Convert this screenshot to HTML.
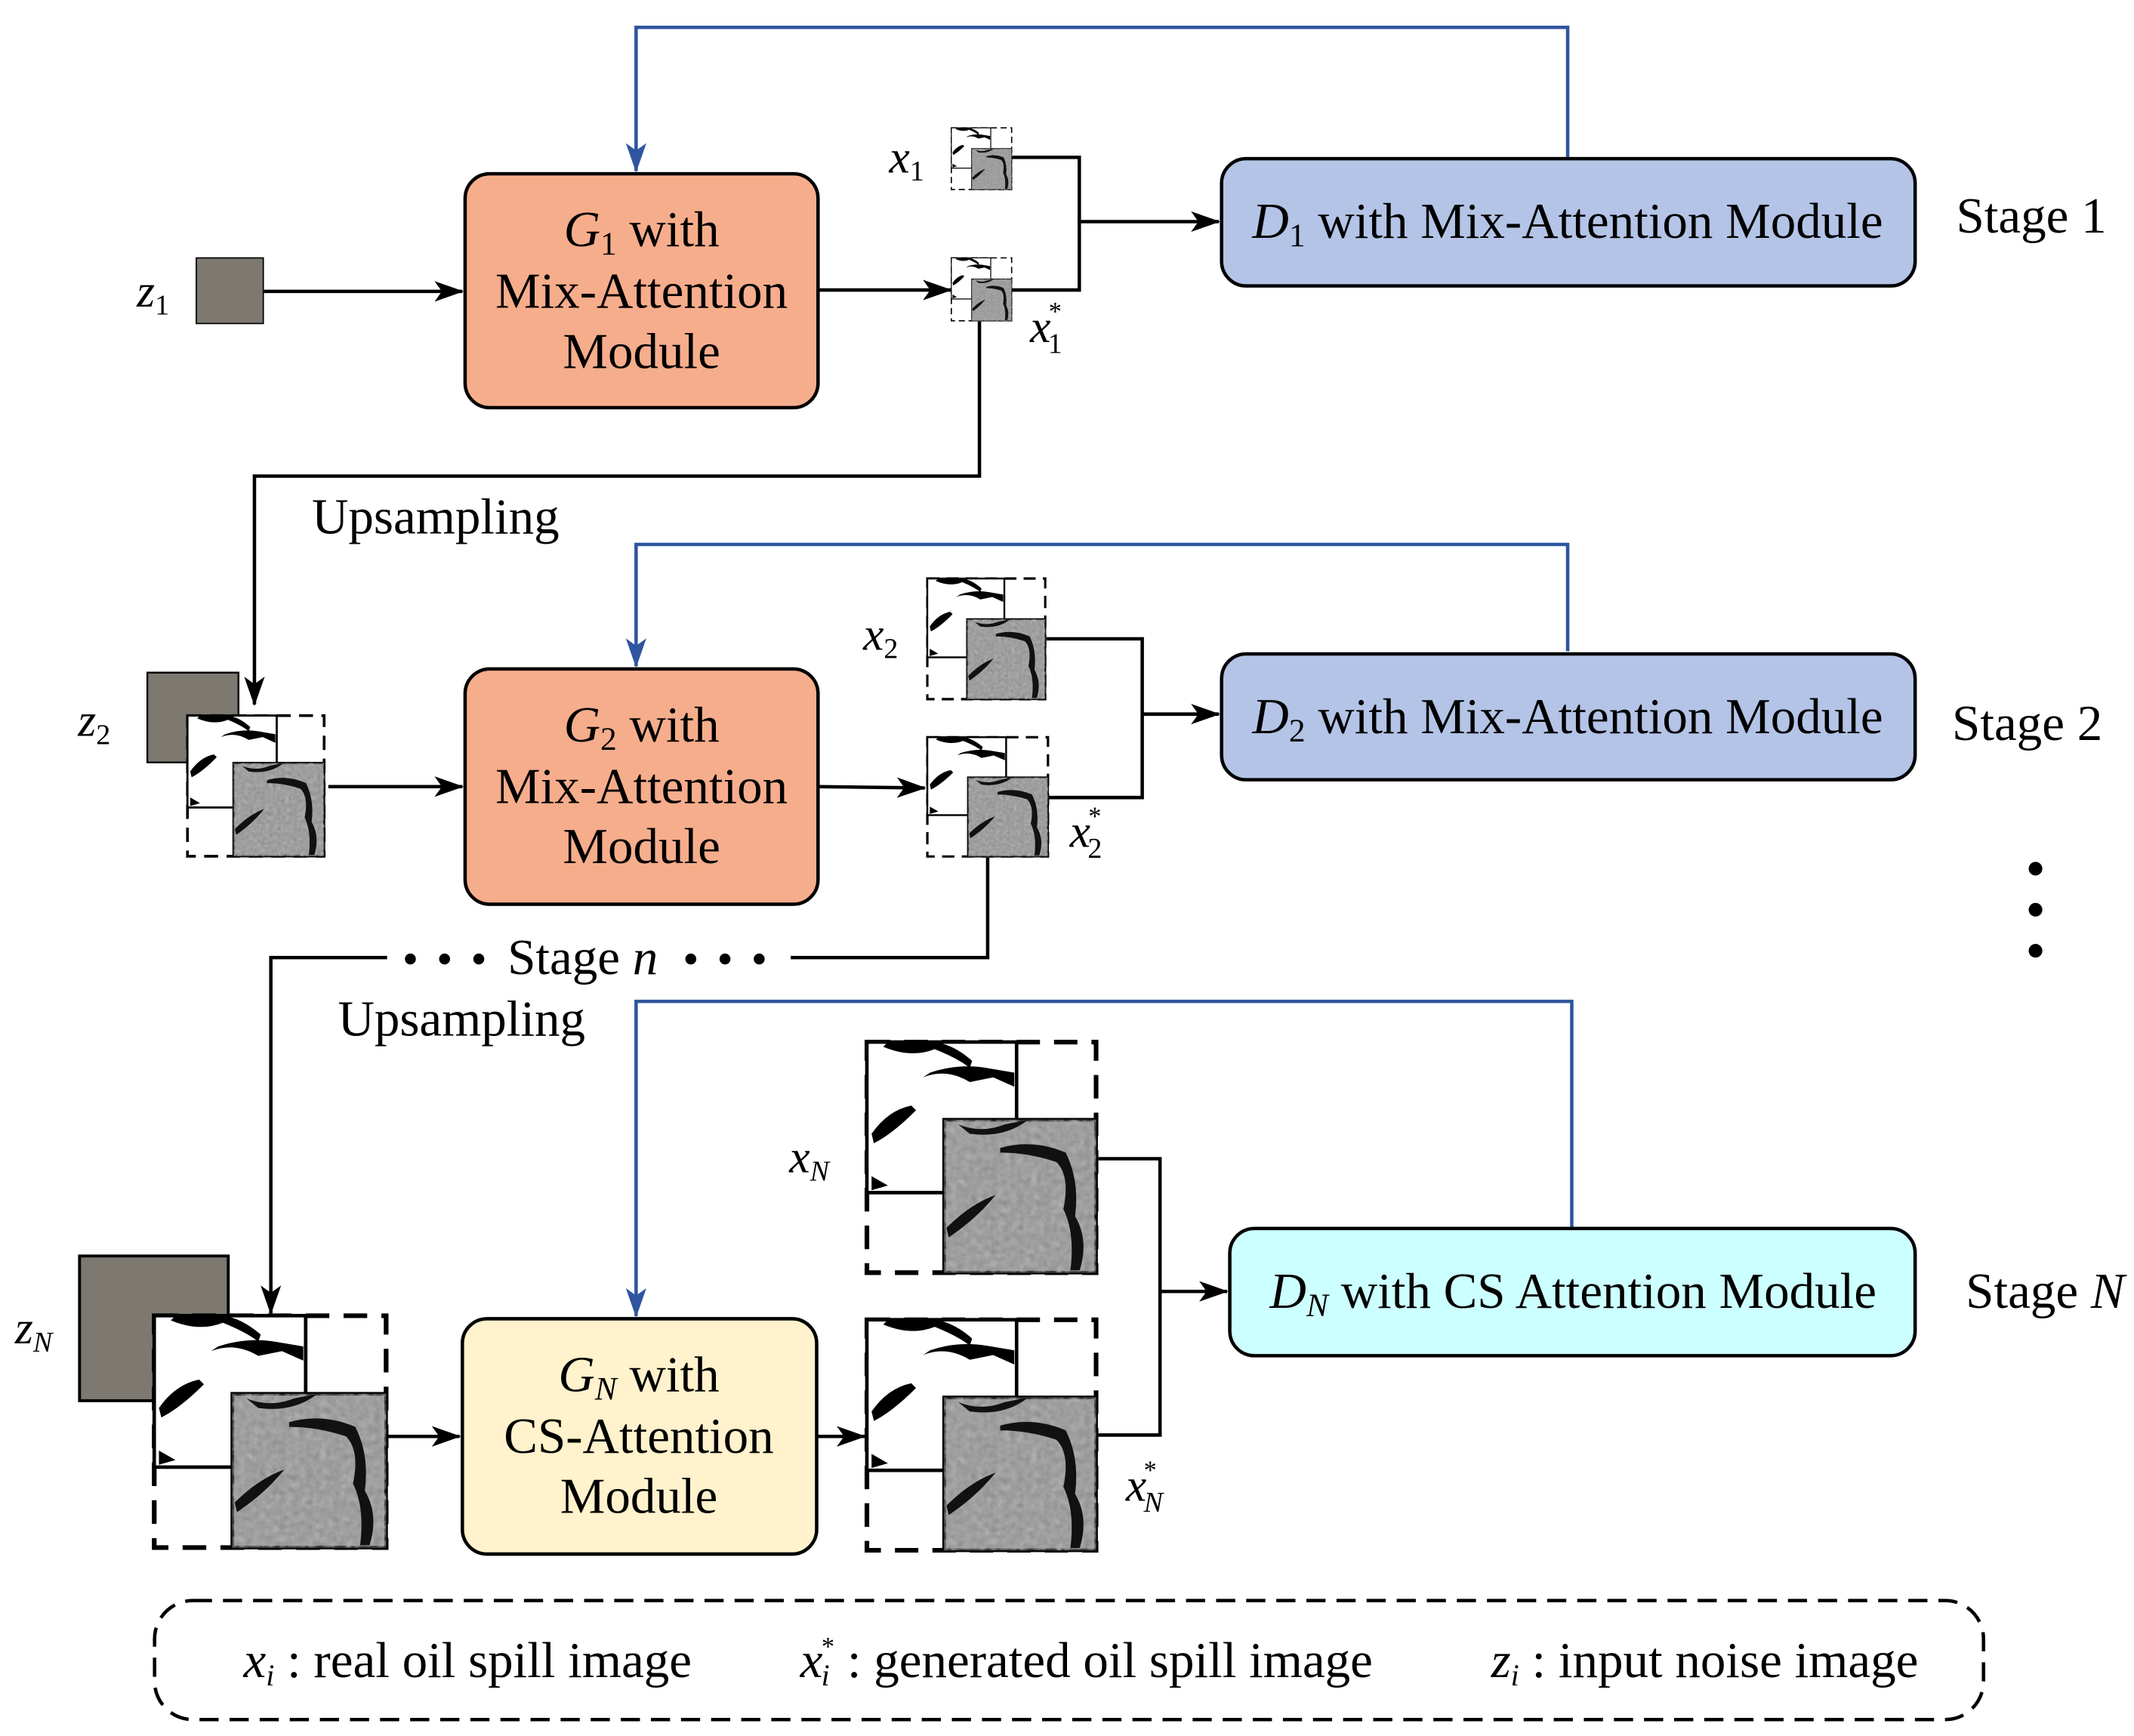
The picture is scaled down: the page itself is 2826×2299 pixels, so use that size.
<!DOCTYPE html>
<html><head><meta charset="utf-8"><style>
html,body{margin:0;padding:0;background:#fff;}
svg{display:block;}
text{font-family:"Liberation Serif",serif;fill:#000;}
</style></head><body>
<svg width="2826" height="2299" viewBox="0 0 1560 1269" preserveAspectRatio="none" xmlns="http://www.w3.org/2000/svg">
<defs>
<marker id="ak" viewBox="0 0 20 14" markerWidth="22" markerHeight="15" refX="19" refY="7" orient="auto" markerUnits="userSpaceOnUse"><path d="M0,0 L20,7 L0,14 L5,7 z" fill="#000"/></marker>
<marker id="au" viewBox="0 0 20 14" markerWidth="22" markerHeight="15" refX="19" refY="7" orient="auto" markerUnits="userSpaceOnUse"><path d="M0,0 L20,7 L0,14 L5,7 z" fill="#2F55A0"/></marker>
<filter id="nz" x="0" y="0" width="1" height="1"><feTurbulence type="fractalNoise" baseFrequency="0.35" numOctaves="2" seed="3"/><feColorMatrix type="matrix" values="0 0 0 0 0.45  0 0 0 0 0.45  0 0 0 0 0.45  0.6 0.6 0.6 0 -0.4"/><feComposite in2="SourceGraphic" operator="in"/></filter>
<symbol id="stack" viewBox="0 0 100 100" preserveAspectRatio="none">
<rect x="1" y="1" width="98" height="98" fill="none" stroke="#000" stroke-width="2" stroke-dasharray="10,6"/>
<rect x="1" y="1" width="64" height="64" fill="#fff" stroke="#000" stroke-width="1.5"/>
<path d="M8,3 Q20,8 30,4 Q40,8 45,12 L46,9 Q38,2 30,1 L10,1 z" fill="#000"/>
<path d="M25,16 Q35,12 45,18 L55,16 L64,20 L64,14 L52,12 Q40,10 28,14 z" fill="#000"/>
<path d="M3,40 Q10,30 20,28 L22,30 Q12,40 4,44 z" fill="#000"/>
<path d="M3,58 L10,62 L3,64 z" fill="#000"/>
<rect x="34" y="34" width="65" height="65" fill="#8a8a8a" stroke="#000" stroke-width="1.5"/>
<rect x="34" y="34" width="65" height="65" fill="#666" filter="url(#nz)"/>
<path d="M40,36 Q50,40 60,36 L70,34 Q60,42 45,40 z" fill="#111"/>
<path d="M58,46 Q72,42 86,48 Q92,60 90,75 Q96,85 92,98 L88,98 Q90,82 85,72 Q88,58 82,52 Q70,48 58,48 z" fill="#111"/>
<path d="M35,80 Q45,70 56,66 Q48,76 36,84 z" fill="#111"/>
</symbol>
<symbol id="noise" viewBox="0 0 100 100" preserveAspectRatio="none">
<rect x="1" y="1" width="98" height="98" fill="#7d7870" stroke="#000" stroke-width="2"/>
</symbol>
</defs>

<g stroke="#000" stroke-width="2.5" fill="none">
<line x1="193" y1="213" x2="338" y2="213" marker-end="url(#ak)"/>
<line x1="598" y1="212" x2="695" y2="212" marker-end="url(#ak)"/>
<polyline points="740,115 789,115 789,212 740,212"/>
<line x1="789" y1="162" x2="891" y2="162" marker-end="url(#ak)"/>
<polyline points="716,235 716,348 186,348 186,515" marker-end="url(#ak)"/>
<line x1="240" y1="575" x2="338" y2="575" marker-end="url(#ak)"/>
<line x1="598" y1="575" x2="676" y2="576" marker-end="url(#ak)"/>
<polyline points="765,467 835,467 835,583 767,583"/>
<line x1="835" y1="522" x2="891" y2="522" marker-end="url(#ak)"/>
<polyline points="722,627 722,700 578,700"/>
<polyline points="283,700 198,700 198,960" marker-end="url(#ak)"/>
<line x1="284" y1="1050" x2="336" y2="1050" marker-end="url(#ak)"/>
<line x1="597" y1="1050" x2="632" y2="1050" marker-end="url(#ak)"/>
<polyline points="803,847 848,847 848,1049 803,1049"/>
<line x1="848" y1="944" x2="897" y2="944" marker-end="url(#ak)"/>
</g>
<g stroke="#2F55A0" stroke-width="2.5" fill="none">
<polyline points="1146,115 1146,20 465,20 465,125" marker-end="url(#au)"/>
<polyline points="1146,476 1146,398 465,398 465,487" marker-end="url(#au)"/>
<polyline points="1149,898 1149,732 465,732 465,962" marker-end="url(#au)"/>
</g>

<rect x="340" y="127" width="258" height="171" rx="18" fill="#F6AD8C" stroke="#000" stroke-width="2.5"/>
<rect x="340" y="489" width="258" height="172" rx="18" fill="#F6AD8C" stroke="#000" stroke-width="2.5"/>
<rect x="338" y="964" width="259" height="172" rx="18" fill="#FFF2CC" stroke="#000" stroke-width="2.5"/>
<rect x="893" y="116" width="507" height="93" rx="18" fill="#B4C4E7" stroke="#000" stroke-width="2.5"/>
<rect x="893" y="478" width="507" height="92" rx="18" fill="#B4C4E7" stroke="#000" stroke-width="2.5"/>
<rect x="899" y="898" width="501" height="93" rx="18" fill="#CCFFFF" stroke="#000" stroke-width="2.5"/>
<rect x="113" y="1170" width="1337" height="87" rx="28" fill="none" stroke="#000" stroke-width="2.5" stroke-dasharray="14,8"/>

<use href="#noise" x="143" y="188" width="50" height="49"/>
<use href="#stack" x="695" y="93" width="45" height="46"/>
<use href="#stack" x="695" y="188" width="45" height="47"/>
<use href="#noise" x="107" y="491" width="68" height="67"/>
<use href="#stack" x="136" y="522" width="102" height="105"/>
<use href="#stack" x="677" y="422" width="88" height="90"/>
<use href="#stack" x="677" y="538" width="90" height="89"/>
<use href="#noise" x="57" y="917" width="111" height="108"/>
<use href="#stack" x="111" y="960" width="173" height="173"/>
<use href="#stack" x="632" y="760" width="171" height="172"/>
<use href="#stack" x="632" y="963" width="171" height="172"/>

<g font-size="37" text-anchor="middle">
<text x="469" y="180"><tspan font-style="italic">G</tspan><tspan font-size="24" dy="6">1</tspan><tspan dy="-6"> with</tspan></text>
<text x="469" y="225">Mix-Attention</text>
<text x="469" y="269">Module</text>
<text x="469" y="542"><tspan font-style="italic">G</tspan><tspan font-size="24" dy="6">2</tspan><tspan dy="-6"> with</tspan></text>
<text x="469" y="587">Mix-Attention</text>
<text x="469" y="631">Module</text>
<text x="467" y="1017"><tspan font-style="italic">G</tspan><tspan font-size="24" font-style="italic" dy="6">N</tspan><tspan dy="-6"> with</tspan></text>
<text x="467" y="1062">CS-Attention</text>
<text x="467" y="1106">Module</text>
<text x="1146" y="174"><tspan font-style="italic">D</tspan><tspan font-size="24" dy="6">1</tspan><tspan dy="-6"> with Mix-Attention Module</tspan></text>
<text x="1146" y="536"><tspan font-style="italic">D</tspan><tspan font-size="24" dy="6">2</tspan><tspan dy="-6"> with Mix-Attention Module</tspan></text>
<text x="1150" y="956"><tspan font-style="italic">D</tspan><tspan font-size="24" font-style="italic" dy="6">N</tspan><tspan dy="-6"> with CS Attention Module</tspan></text>
</g>
<g font-size="37">
<text x="1430" y="170">Stage 1</text>
<text x="1427" y="541">Stage 2</text>
<text x="1437" y="956">Stage <tspan font-style="italic">N</tspan></text>
<text x="228" y="390">Upsampling</text>
<text x="247" y="757">Upsampling</text>
<text x="371" y="712">Stage <tspan font-style="italic">n</tspan></text>
</g>
<g fill="#000">
<circle cx="300" cy="701" r="4"/><circle cx="325" cy="701" r="4"/><circle cx="350" cy="701" r="4"/>
<circle cx="505" cy="701" r="4"/><circle cx="530" cy="701" r="4"/><circle cx="555" cy="701" r="4"/>
<circle cx="1488" cy="635" r="5"/><circle cx="1488" cy="665" r="5"/><circle cx="1488" cy="695" r="5"/></g>
<g font-size="34" font-style="italic">
<text x="100" y="224">z<tspan font-size="21" font-style="normal" dy="6">1</tspan></text>
<text x="57" y="538">z<tspan font-size="21" font-style="normal" dy="6">2</tspan></text>
<text x="11" y="982">z<tspan font-size="21" dy="6">N</tspan></text>
<text x="650" y="126">x<tspan font-size="21" font-style="normal" dy="6">1</tspan></text>
<text x="753" y="250">x<tspan font-size="21" font-style="normal" dx="-2" dy="8">1</tspan><tspan font-size="19" font-style="normal" dx="-10" dy="-24">*</tspan></text>
<text x="631" y="475">x<tspan font-size="21" font-style="normal" dy="6">2</tspan></text>
<text x="782" y="619">x<tspan font-size="21" font-style="normal" dx="-2" dy="8">2</tspan><tspan font-size="19" font-style="normal" dx="-10" dy="-24">*</tspan></text>
<text x="577" y="857">x<tspan font-size="21" dy="6">N</tspan></text>
<text x="823" y="1097">x<tspan font-size="21" dx="-2" dy="8">N</tspan><tspan font-size="19" font-style="normal" dx="-14" dy="-24">*</tspan></text>
</g>
<g font-size="37">
<text x="178" y="1226"><tspan font-style="italic">x</tspan><tspan font-size="22" font-style="italic" dy="6">i</tspan><tspan dy="-6"> : real oil spill image</tspan></text>
<text x="585" y="1226"><tspan font-style="italic">x</tspan><tspan font-size="22" font-style="italic" dx="-1" dy="6">i</tspan><tspan font-size="19" dx="-6" dy="-22">*</tspan><tspan dy="16"> : generated oil spill image</tspan></text>
<text x="1090" y="1226"><tspan font-style="italic">z</tspan><tspan font-size="22" font-style="italic" dy="6">i</tspan><tspan dy="-6"> : input noise image</tspan></text>
</g>
</svg>
</body></html>
